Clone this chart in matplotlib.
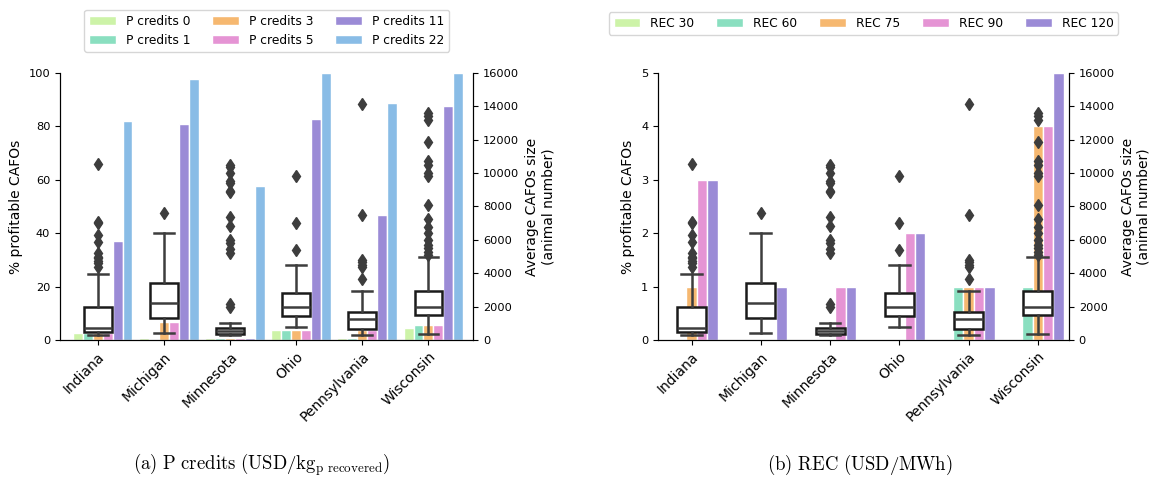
import numpy as np
import matplotlib
matplotlib.use("Agg")
import matplotlib.pyplot as plt
from matplotlib.patches import Patch

plt.rcParams["mathtext.fontset"] = "cm"

STATES = ["Indiana", "Michigan", "Minnesota", "Ohio", "Pennsylvania", "Wisconsin"]

# % profitable CAFOs for each P credit level (USD/kg P recovered)
P_LABELS = ["P credits 0", "P credits 1", "P credits 3", "P credits 5", "P credits 11", "P credits 22"]
p0 = [2.8, 0.9, 0.9, 3.8, 0.9, 4.6]
p1 = [2.8, 0.0, 0.9, 3.8, 0.9, 5.6]
p3 = [2.8, 6.8, 0.9, 3.8, 3.8, 5.6]
p5 = [2.8, 6.8, 0.9, 3.8, 3.8, 5.6]
p11 = [36.9, 80.8, 0.9, 82.6, 46.9, 87.8]
p22 = [82.0, 97.8, 57.8, 100.0, 88.8, 100.0]

# % profitable CAFOs for each REC level (USD/MWh)
REC_LABELS = ["REC 30", "REC 60", "REC 75", "REC 90", "REC 120"]
rec30 = [0, 0, 0, 0, 0, 0]
rec60 = [0, 0, 0, 0, 1, 1]
rec75 = [1, 0, 0, 0, 1, 4]
rec90 = [3, 0, 1, 2, 1, 4]
rec120 = [3, 1, 1, 2, 1, 5]

# CAFO size distribution (animal number) per state
box_whislo = [280, 440, 300, 800, 300, 360]
box_q1 = [460, 1340, 380, 1460, 680, 1480]
box_med = [740, 2240, 540, 2000, 1260, 2000]
box_q3 = [1960, 3440, 720, 2800, 1700, 2940]
box_whishi = [3980, 6420, 1040, 4500, 2940, 4980]
box_fliers = [
    [10540, 7100, 7000, 6300, 5900, 5200, 5000, 4900, 4750, 4600, 4400],
    [7600],
    [10480, 10360, 10000, 9540, 9400, 8950, 8840, 7360, 6860, 6000, 5800, 5440, 5200, 2140, 2000],
    [9800, 7000, 5400],
    [14160, 7520, 4800, 4650, 4500, 4400, 3660],
    [13600, 13400, 13200, 11880, 10700, 10500, 10000, 9800, 8060, 7240, 6800, 6400,
     6000, 5700, 5500, 5300, 5100],
]

COLORS = ["#cdf3a8", "#8adfc0", "#f6b870", "#e594d4", "#9b8bd6", "#89bce6"]

stats = [dict(whislo=a, q1=b, med=c, q3=d, whishi=e, fliers=f)
         for a, b, c, d, e, f in zip(box_whislo, box_q1, box_med, box_q3, box_whishi, box_fliers)]

fig = plt.figure(figsize=(11.66, 4.78), dpi=100)
axA = fig.add_axes([0.0515, 0.2887, 0.3545, 0.5586])
axB = fig.add_axes([0.5643, 0.2887, 0.3525, 0.5586])

x = np.arange(len(STATES))
W = 0.15


def draw(ax, series, labels, ymax, yticks, xlim, legend_anchor, ncol, colsp):
    for i, (vals, lab) in enumerate(zip(series, labels)):
        ax.bar(x + (i - 2) * W, vals, width=W, color=COLORS[i], edgecolor="white",
               linewidth=1.0, label=lab, zorder=1)
    ax.set_ylim(0, ymax)
    ax.set_yticks(yticks)
    ax.set_ylabel("% profitable CAFOs", fontsize=10)
    ax.tick_params(axis="y", labelsize=8.2)
    ax.spines["top"].set_visible(False)

    ax2 = ax.twinx()
    ax2.bxp(stats, positions=x, widths=0.42, capwidths=0.3, patch_artist=True,
            manage_ticks=False,
            boxprops=dict(facecolor="white", edgecolor="#1a1a1a", linewidth=1.8),
            whiskerprops=dict(color="#3d3d3d", linewidth=1.8),
            capprops=dict(color="#3d3d3d", linewidth=1.8),
            medianprops=dict(color="#3d3d3d", linewidth=1.8),
            flierprops=dict(marker="d", markersize=6.5, markerfacecolor="#3d3d3d",
                            markeredgecolor="#3d3d3d"))
    ax2.set_ylim(0, 16000)
    ax2.set_yticks(np.arange(0, 16001, 2000))
    ax2.set_ylabel("Average CAFOs size\n(animal number)", fontsize=10)
    ax2.tick_params(axis="y", labelsize=8.2)
    ax2.spines["top"].set_visible(False)

    ax.set_xlim(*xlim)
    ax.set_xticks(x)
    ax.set_xticklabels(STATES, rotation=45, ha="right", rotation_mode="anchor", fontsize=10)

    handles = [Patch(facecolor=COLORS[i], edgecolor="white", label=l) for i, l in enumerate(labels)]
    ax.legend(handles=handles, loc="lower center", bbox_to_anchor=legend_anchor, ncol=ncol,
              fontsize=8.8, frameon=True, columnspacing=colsp, handlelength=2.2)


draw(axA, [p0, p1, p3, p5, p11, p22], P_LABELS, 100, np.arange(0, 101, 20),
     (-0.57, 5.68), (0.5, 1.056), 3, 1.8)
draw(axB, [rec30, rec60, rec75, rec90, rec120], REC_LABELS, 5, np.arange(0, 6, 1),
     (-0.485, 5.45), (0.5, 1.12), 5, 1.8)

fig.text(0.224, 0.027, r"$\mathrm{(a)\ P\ credits\ (USD/kg_{p\ recovered})}$", ha="center",
         va="center", fontsize=13.5)
fig.text(0.737, 0.027, r"$\mathrm{(b)\ REC\ (USD/MWh)}$", ha="center", va="center", fontsize=13.5)

fig.savefig("out.png", dpi=100)
